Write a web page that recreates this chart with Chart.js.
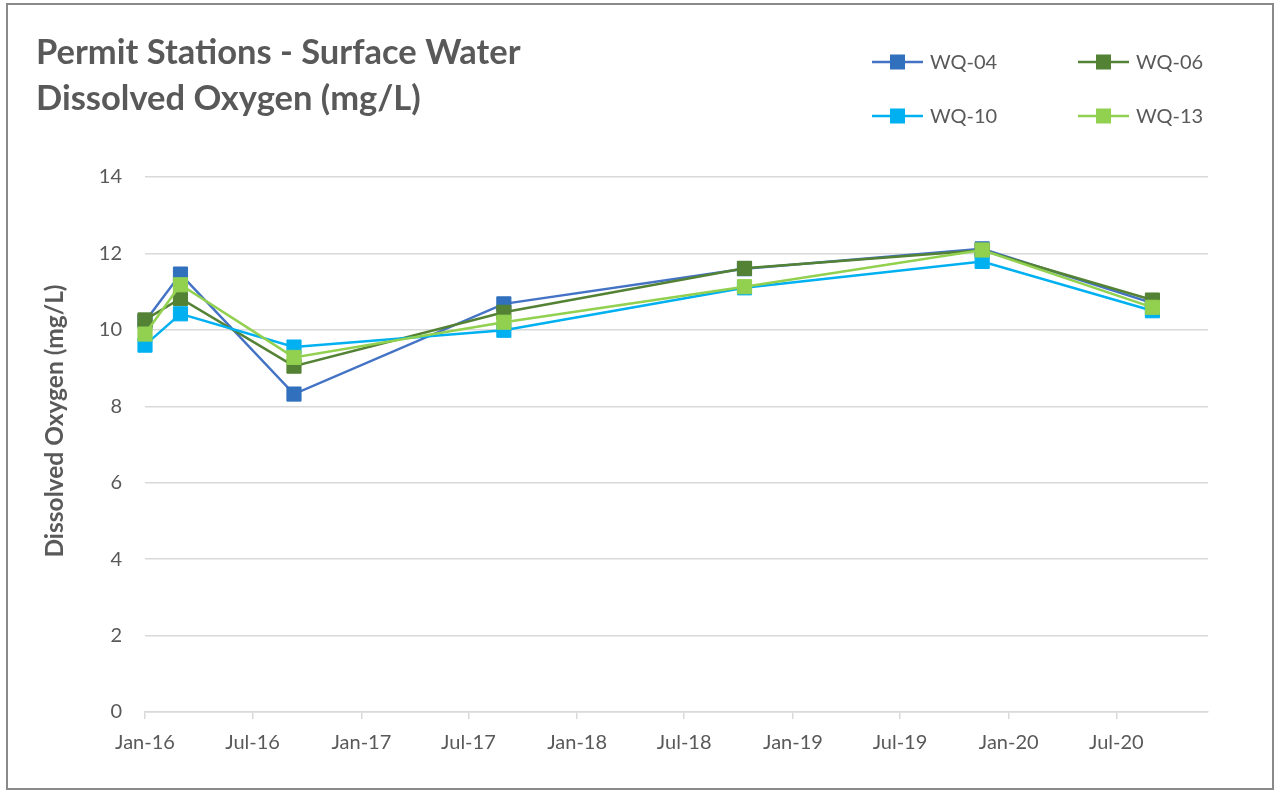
<!DOCTYPE html>
<html><head><meta charset="utf-8">
<script src="https://cdn.jsdelivr.net/npm/chart.js@4.4.0/dist/chart.umd.min.js"></script>
<style>
html,body{margin:0;padding:0;background:#fff;}
#wrap{position:absolute;left:0;top:0;width:1275px;height:791px;}
#frame{position:absolute;left:6px;top:3px;width:1268px;height:787px;border:2px solid #8a8a8a;box-sizing:border-box;pointer-events:none}
canvas{position:absolute;left:0;top:0}
</style></head>
<body>
<div id="wrap"><canvas id="c" width="1275" height="791"></canvas><div id="frame"></div></div>
<script>
// ---- data ----
const sampleDates = ['2016-01-01','2016-03-01','2016-09-09','2017-08-30','2018-10-11','2019-11-17','2020-08-31'];
const seriesNames = ['WQ-04','WQ-06','WQ-10','WQ-13'];
const wq04 = [10.22, 11.46, 8.32, 10.68, 11.60, 12.12, 10.70];
const wq06 = [10.26, 10.82, 9.05, 10.46, 11.61, 12.08, 10.78];
const wq10 = [9.60, 10.42, 9.55, 9.99, 11.10, 11.79, 10.50];
const wq13 = [9.89, 11.18, 9.28, 10.20, 11.13, 12.09, 10.59];
const tickDates = ['2016-01-01','2016-07-01','2017-01-01','2017-07-01','2018-01-01','2018-07-01','2019-01-01','2019-07-01','2020-01-01','2020-07-01'];
const tickLabels = ['Jan-16','Jul-16','Jan-17','Jul-17','Jan-18','Jul-18','Jan-19','Jul-19','Jan-20','Jul-20'];
const yTickValues = [0,2,4,6,8,10,12,14];
const axisStart = '2016-01-01';
const axisEnd = '2020-12-03';
const chartTitle = ['Permit Stations - Surface Water','Dissolved Oxygen (mg/L)'];
const yTitle = 'Dissolved Oxygen (mg/L)';

// ---- helpers ----
const base = Date.parse(axisStart);
const toDay = d => (Date.parse(d) - base) / 86400000;
const pts = vals => vals.map((v, i) => ({x: toDay(sampleDates[i]), y: v}));

const FONT = 'Lato, "Open Sans", sans-serif';
const TXT = '#595959';
const GRID = '#d9d9d9';

const styles = [
  {line:'#4472C4', mark:'#3170BC', order:4},
  {line:'#548235', mark:'#548235', order:3},
  {line:'#00B0F0', mark:'#00B0F0', order:2},
  {line:'#92D050', mark:'#92D050', order:1}
];
const seriesData = [wq04, wq06, wq10, wq13];

const datasets = seriesNames.map((name, i) => ({
  label: name,
  data: pts(seriesData[i]),
  borderColor: styles[i].line,
  backgroundColor: styles[i].mark,
  pointBackgroundColor: styles[i].mark,
  pointBorderColor: styles[i].mark,
  pointStyle: 'rect',
  pointRadius: 10,
  pointHoverRadius: 10,
  pointBorderWidth: 1,
  borderWidth: 2.5,
  tension: 0,
  clip: false,
  order: styles[i].order
}));

const extras = {
  id: 'extras',
  afterDraw(chart) {
    const ctx = chart.ctx;
    ctx.save();
    // y axis title
    ctx.translate(55, 421);
    ctx.rotate(-Math.PI / 2);
    ctx.fillStyle = TXT;
    ctx.font = 'bold 24.5px ' + FONT;
    ctx.textAlign = 'center';
    ctx.textBaseline = 'middle';
    ctx.fillText(yTitle, 0, 0);
    ctx.restore();
    // legend
    const pos = [[872,62],[1078,62],[872,116],[1078,116]];
    chart.data.datasets.forEach((ds, i) => {
      const [x, y] = pos[i];
      ctx.save();
      ctx.strokeStyle = ds.borderColor;
      ctx.lineWidth = 2.5;
      ctx.beginPath(); ctx.moveTo(x, y); ctx.lineTo(x + 51, y); ctx.stroke();
      ctx.fillStyle = ds.pointBackgroundColor;
      ctx.fillRect(x + 25.5 - 7.5, y - 7.5, 15, 15);
      ctx.fillStyle = TXT;
      ctx.font = '20px ' + FONT;
      ctx.textAlign = 'left';
      ctx.textBaseline = 'middle';
      ctx.fillText(ds.label, x + 58, y + 1);
      ctx.restore();
    });
  }
};

new Chart(document.getElementById('c'), {
  type: 'line',
  data: { datasets },
  options: {
    responsive: false,
    animation: false,
    devicePixelRatio: 1,
    layout: { padding: { left: 36, right: 67, top: 0, bottom: 0 } },
    plugins: {
      legend: { display: false },
      tooltip: { enabled: false },
      title: {
        display: true,
        text: chartTitle,
        align: 'start',
        color: TXT,
        font: { family: FONT, size: 34.5, weight: 'bold', lineHeight: 46 / 34.5 },
        padding: { top: 30, bottom: 55 }
      }
    },
    scales: {
      x: {
        type: 'linear',
        min: toDay(axisStart),
        max: toDay(axisEnd),
        afterBuildTicks: s => { s.ticks = tickDates.map(d => ({ value: toDay(d) })); },
        afterFit: s => { s.height = 79; },
        ticks: {
          autoSkip: false,
          maxRotation: 0,
          color: TXT,
          font: { family: FONT, size: 20 },
          padding: 12,
          callback: (v, i) => tickLabels[i]
        },
        grid: { drawOnChartArea: false, drawTicks: true, tickLength: 7, color: GRID, lineWidth: 1.5 },
        border: { display: true, color: GRID, width: 1.5 }
      },
      y: {
        min: 0,
        max: 14,
        afterBuildTicks: s => { s.ticks = yTickValues.map(v => ({ value: v })); },
        afterFit: s => { s.width = 109; },
        ticks: { color: TXT, font: { family: FONT, size: 20 }, padding: 23 },
        grid: { color: GRID, lineWidth: 1.5, drawTicks: false },
        border: { display: false }
      }
    }
  },
  plugins: [extras]
});
</script>
</body></html>
